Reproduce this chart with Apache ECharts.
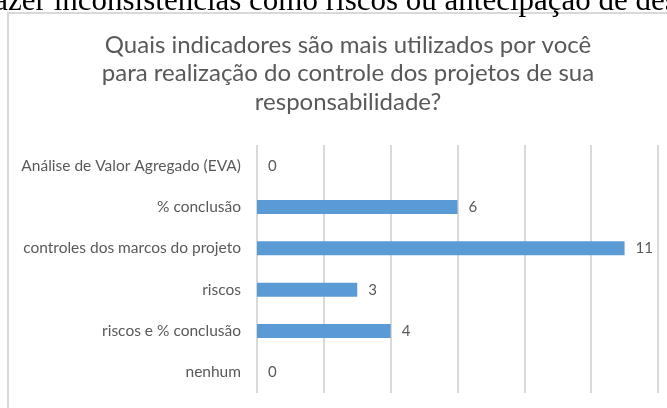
<!DOCTYPE html>
<html>
<head>
<meta charset="utf-8">
<script src="https://cdn.jsdelivr.net/npm/echarts@6/dist/echarts.min.js"></script>
<style>
  html, body { margin: 0; padding: 0; background: #fff; }
  #main { width: 667px; height: 408px; }
</style>
</head>
<body>
<div id="main"></div>
<script>
// dados
var categorias = [
    'Análise de Valor Agregado (EVA)',
    '% conclusão',
    'controles dos marcos do projeto',
    'riscos',
    'riscos e % conclusão',
    'nenhum'
];
var valores = [0, 6, 11, 3, 4, 0];
var titulo = 'Quais indicadores são mais utilizados por você\npara realização do controle dos projetos de sua\nresponsabilidade?';
var textoAcima = 'fazer inconsistências como riscos ou antecipação de desvios';

var myChart = echarts.init(document.getElementById('main'));

var option = {
    animation: false,
    title: {
        text: titulo,
        left: 343,
        top: 26,
        textAlign: 'center',
        textStyle: {
            fontFamily: 'Lato',
            fontSize: 24,
            fontWeight: 'normal',
            color: '#595959',
            lineHeight: 28.5
        }
    },
    graphic: [
        {
            type: 'rect',
            shape: { x: 8, y: 13, width: 720, height: 420 },
            style: { fill: null, stroke: '#d9d9d9', lineWidth: 2 }
        },
        {
            type: 'text',
            x: -16,
            y: 17,
            style: {
                text: textoAcima,
                fontFamily: 'Liberation Serif',
                fontSize: 31,
                fill: '#000',
                textVerticalAlign: 'bottom'
            }
        }
    ],
    grid: {
        left: 257,
        right: 9,
        top: 145,
        bottom: 15
    },
    xAxis: {
        type: 'value',
        min: 0,
        max: 12,
        interval: 2,
        axisLabel: { show: false },
        axisLine: { show: false },
        axisTick: { show: false },
        splitLine: { lineStyle: { color: '#d9d9d9', width: 2 } }
    },
    yAxis: {
        type: 'category',
        inverse: true,
        data: categorias,
        axisLine: { show: false },
        axisTick: { show: false },
        axisLabel: {
            margin: 16,
            fontFamily: 'Lato',
            fontSize: 15.5,
            color: '#595959'
        }
    },
    series: [{
        type: 'bar',
        data: valores,
        barWidth: 14,
        itemStyle: { color: '#5b9bd5' },
        label: {
            show: true,
            position: 'right',
            distance: 11,
            fontFamily: 'Lato',
            fontSize: 15,
            color: '#595959'
        }
    }]
};
myChart.setOption(option);
</script>
</body>
</html>
